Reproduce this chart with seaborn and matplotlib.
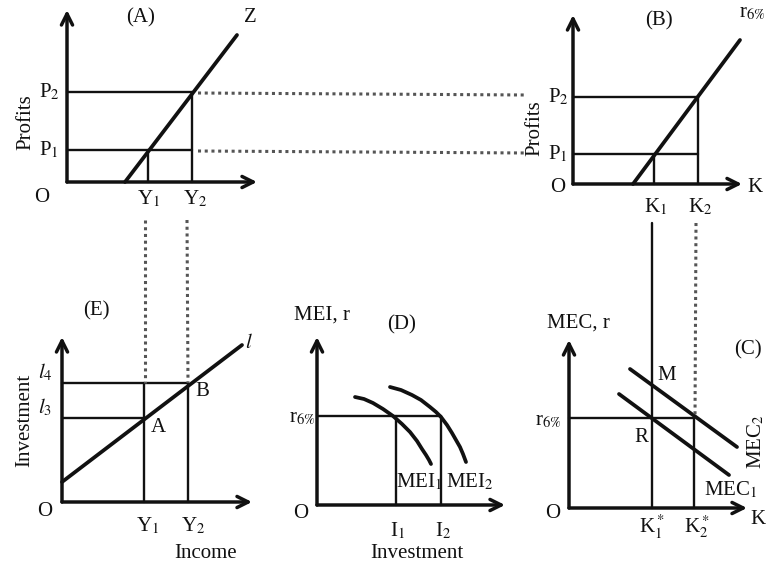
import matplotlib
matplotlib.use("Agg")
import matplotlib.pyplot as plt
import seaborn as sns
import pandas as pd

# Diagram drawn in image pixel coordinates (x right, y down)

# ---- panel A: profits vs income ----
a_orig = (67, 182)
a_tip_x, a_tip_y = 257, 10
a_z_x = [125, 237]
a_z_y = [182, 35]
a_p = [150, 92]          # P1, P2 levels
a_y = [148, 192]         # Y1, Y2 positions

# ---- panel B: profits vs capital ----
b_orig = (573, 184)
b_tip_x, b_tip_y = 742, 15
b_r_x = [633, 740]
b_r_y = [184, 40]
b_p = [154, 97]
b_k = [654, 698]

# ---- panel E: investment vs income ----
e_orig = (62, 502)
e_tip_x, e_tip_y = 252, 337
e_l_x = [62, 242]
e_l_y = [482, 345]
e_i = [418, 383]         # l3, l4
e_y = [144, 188]

# ---- panel D: MEI ----
d_orig = (317, 505)
d_tip_x, d_tip_y = 505, 337
d_r = 416
d_i = [396, 441]
mei1_x = [355, 364, 373, 383, 393, 402, 410, 417, 422, 426, 429, 431]
mei1_y = [397, 399, 403, 409, 416, 424, 432, 441, 449, 455, 460, 464]
mei2_x = [390, 401, 412, 421, 430, 436, 441, 447, 452, 456, 460, 463, 466]
mei2_y = [387, 390, 395, 400, 407, 412, 417, 425, 433, 440, 447, 454, 462]

# ---- panel C: MEC ----
c_orig = (569, 508)
c_tip_x, c_tip_y = 747, 340
c_r = 418
c_k = [652, 694]
mec1_x = [619, 729]
mec1_y = [394, 475]
mec2_x = [630, 737]
mec2_y = [369, 447]

# connecting dotted lines
dot_p2 = ([198, 527], [93, 95])
dot_p1 = ([198, 527], [151, 153])
dot_y1 = ([145, 145], [220, 383])
dot_y2 = ([187, 188], [220, 383])
dot_k2 = ([696, 695], [223, 418])
solid_k1_top = 223


def segs(lst):
    rows = []
    for i, (xs, ys) in enumerate(lst):
        for x, y in zip(xs, ys):
            rows.append({"seg": i, "x": x, "y": y})
    return pd.DataFrame(rows)


sns.set_theme(style="white")
plt.rcParams["font.family"] = ["Liberation Serif", "DejaVu Serif"]
plt.rcParams["mathtext.fontset"] = "stix"

fig = plt.figure(figsize=(7.68, 5.64), dpi=100)
ax = fig.add_axes([0, 0, 1, 1])
ax.set_xlim(0, 768)
ax.set_ylim(564, 0)
ax.axis("off")

# thick curves
thick = [
    (a_z_x, a_z_y), (b_r_x, b_r_y), (e_l_x, e_l_y),
    (mei1_x, mei1_y), (mei2_x, mei2_y),
    (mec1_x, mec1_y), (mec2_x, mec2_y),
]
# guide lines
guides = [
    ([a_orig[0], a_y[1]], [a_p[0], a_p[0]]),
    ([a_orig[0], a_y[1]], [a_p[1], a_p[1]]),
    ([a_y[0], a_y[0]], [a_p[0], a_orig[1]]),
    ([a_y[1], a_y[1]], [a_p[1], a_orig[1]]),
    ([b_orig[0], b_k[1]], [b_p[0], b_p[0]]),
    ([b_orig[0], b_k[1]], [b_p[1], b_p[1]]),
    ([b_k[0], b_k[0]], [b_p[0], b_orig[1]]),
    ([b_k[1], b_k[1]], [b_p[1], b_orig[1]]),
    ([e_orig[0], e_y[0]], [e_i[0], e_i[0]]),
    ([e_orig[0], e_y[1]], [e_i[1], e_i[1]]),
    ([e_y[0], e_y[0]], [e_i[1], e_orig[1]]),
    ([e_y[1], e_y[1]], [e_i[1], e_orig[1]]),
    ([d_orig[0], d_i[1]], [d_r, d_r]),
    ([d_i[0], d_i[0]], [d_r, d_orig[1]]),
    ([d_i[1], d_i[1]], [d_r, d_orig[1]]),
    ([c_orig[0], c_k[1]], [c_r, c_r]),
    ([c_k[0], c_k[0]], [solid_k1_top, c_orig[1]]),
    ([c_k[1], c_k[1]], [c_r, c_orig[1]]),
]
dots = [dot_p2, dot_p1, dot_y1, dot_y2, dot_k2]

kw = dict(x="x", y="y", units="seg", estimator=None, sort=False,
          legend=False, ax=ax)
sns.lineplot(data=segs(thick), lw=2.7, color="#111111", **kw)
sns.lineplot(data=segs(guides), lw=1.7, color="#111111", **kw)
sns.lineplot(data=segs(dots), lw=2.2, linestyle=(0, (1, 1.2)),
             color="#555555", **kw)
for line in ax.lines:
    line.set_solid_capstyle("round")
    line.set_solid_joinstyle("round")

# axes with open arrow heads
for (ox, oy), tx, ty in [(a_orig, a_tip_x, a_tip_y), (b_orig, b_tip_x, b_tip_y),
                         (e_orig, e_tip_x, e_tip_y), (d_orig, d_tip_x, d_tip_y),
                         (c_orig, c_tip_x, c_tip_y)]:
    for xy in [(tx, oy), (ox, ty)]:
        ax.annotate("", xy=xy, xytext=(ox, oy),
                    arrowprops=dict(arrowstyle="->", lw=2.5, color="#111111",
                                    mutation_scale=20, shrinkA=0, shrinkB=0))

fs = 15
sub = dict(fontsize=fs, ha="center", va="center", color="#111111")
labels = [
    # panel A
    ("(A)", 141, 18), ("Z", 250, 18), ("P$_2$", 49, 92), ("P$_1$", 49, 150),
    ("O", 42, 197), ("Y$_1$", 149, 199), ("Y$_2$", 195, 199),
    # panel B
    ("(B)", 659, 21), ("P$_2$", 558, 97), ("P$_1$", 558, 154),
    ("O", 558, 188), ("K", 755, 188), ("K$_1$", 656, 207), ("K$_2$", 700, 207),
    # panel E
    ("(E)", 96, 311), ("$l$", 249, 343), ("$l_4$", 45, 372), ("$l_3$", 45, 407),
    ("A", 158, 428), ("B", 202, 392), ("O", 45, 512),
    ("Y$_1$", 148, 526), ("Y$_2$", 193, 526), ("Income", 206, 553),
    # panel D
    ("MEI, r", 322, 315), ("(D)", 402, 325), ("r$_{6\\%}$", 302, 418),
    ("O", 301, 513), ("I$_1$", 398, 531), ("I$_2$", 443, 531),
    ("MEI$_1$", 419, 482), ("MEI$_2$", 470, 482), ("Investment", 417, 553),
    # panel C
    ("MEC, r", 578, 323), ("(C)", 748, 350), ("M", 667, 376), ("R", 641, 437),
    ("r$_{6\\%}$", 548, 421), ("O", 553, 513), ("K", 758, 520),
    ("K$^*_1$", 652, 527), ("K$^*_2$", 697, 527), ("MEC$_1$", 731, 490),
]
for s, x, y in labels:
    ax.text(x, y, s, **sub)

ax.text(766, 13, "r$_{6\\%}$", fontsize=fs, ha="right", va="center", color="#111111")
ax.text(26, 122, "Profits", rotation=90, **sub)
ax.text(535, 128, "Profits", rotation=90, **sub)
ax.text(25, 420, "Investment", rotation=90, **sub)
ax.text(756, 442, "MEC$_2$", rotation=90, **sub)

fig.savefig("out.png", dpi=100)
